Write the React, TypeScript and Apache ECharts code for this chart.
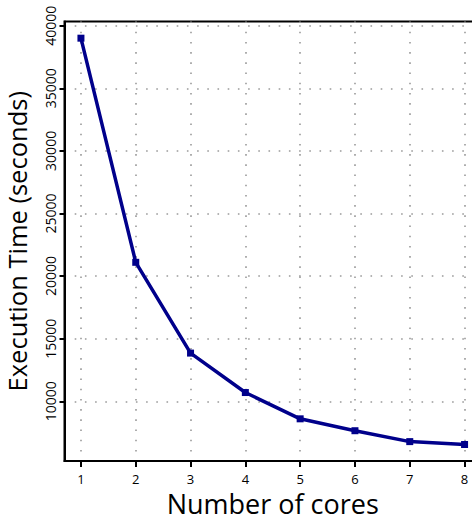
import React, { useEffect, useRef } from "react";
import * as echarts from "echarts";

const cores = [1, 2, 3, 4, 5, 6, 7, 8];
const execTime = [39000, 21100, 13850, 10700, 8600, 7650, 6780, 6550];
const yTicks = [10000, 15000, 20000, 25000, 30000, 35000, 40000];
const xTicks = [1, 2, 3, 4, 5, 6, 7, 8];

const FONT = "Open Sans";

export default function App() {
  const ref = useRef<HTMLDivElement>(null);
  useEffect(() => {
    const chart = echarts.init(ref.current!, null, { renderer: "svg" });
    const grid = { color: "#9a9a9a", width: 1.6, type: [1.6, 8.6] as any };
    chart.setOption({
      animation: false,
      backgroundColor: "#ffffff",
      grid: {
        left: 64.5,
        right: -9,
        top: 21.5,
        bottom: 55,
        show: true,
        borderColor: "#000",
        borderWidth: 2,
        containLabel: false,
        outerBoundsMode: "none",
      },
      xAxis: {
        type: "value",
        min: 0.7,
        max: 8.3,
        name: "Number of cores",
        nameLocation: "middle",
        nameGap: 29,
        nameTextStyle: { fontFamily: FONT, fontSize: 27, lineHeight: 23, color: "#000" },
        axisLine: { show: true, onZero: false, lineStyle: { color: "#000", width: 2 } },
        axisTick: { show: true, length: 6, lineStyle: { color: "#000", width: 2 }, customValues: xTicks },
        axisLabel: { customValues: xTicks, fontFamily: FONT, fontSize: 13, lineHeight: 13, color: "#000", margin: 11, formatter: (v: number) => String(v) },
        splitLine: { show: true, lineStyle: grid },
      },
      yAxis: {
        type: "value",
        min: 5232,
        max: 40332,
        name: "Execution Time (seconds)",
        nameLocation: "middle",
        nameGap: 36,
        nameTextStyle: { fontFamily: FONT, fontSize: 25.5, lineHeight: 24, color: "#000" },
        axisLine: { show: true, onZero: false, lineStyle: { color: "#000", width: 2 } },
        axisTick: { show: true, length: 5, lineStyle: { color: "#000", width: 2 }, customValues: yTicks },
        axisLabel: { customValues: yTicks, rotate: 90, fontFamily: FONT, fontSize: 14, color: "#000", margin: 7, formatter: (v: number) => String(v) },
        splitLine: { show: true, lineStyle: grid },
      },
      series: [
        {
          type: "line",
          data: cores.map((c, i) => [c, execTime[i]]),
          symbol: "rect",
          symbolSize: 7,
          showSymbol: true,
          lineStyle: { color: "#00008b", width: 3.5 },
          itemStyle: { color: "#00008b" },
        },
      ],
    });
    return () => chart.dispose();
  }, []);
  return (
    <div style={{ position: "fixed", left: 0, top: 0, width: 472, height: 516, overflow: "hidden", background: "#fff" }}>
      <div ref={ref} style={{ width: 472, height: 516 }} />
    </div>
  );
}
